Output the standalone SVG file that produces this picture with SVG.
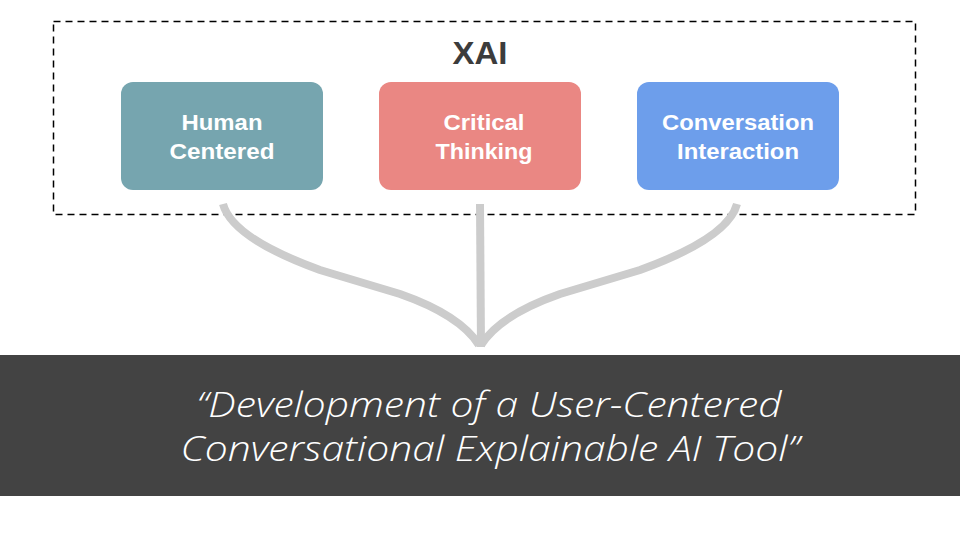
<svg xmlns="http://www.w3.org/2000/svg" width="960" height="540" viewBox="0 0 960 540">
<style>
.box{stroke:none}
.lbl{font-family:"Liberation Sans",Arial,sans-serif;font-weight:bold;font-size:22px;fill:#fff;text-anchor:middle}
.con{fill:none;stroke:#cccccc;stroke-width:8}
.quote{font-family:"Open Sans",Lato,sans-serif;font-style:italic;font-weight:300;font-size:35px;fill:#fff;text-anchor:middle}
</style>
<rect width="960" height="540" fill="#fff"/>
<g id="xai">
<rect x="53.5" y="21.5" width="862" height="193" fill="none" stroke="#000" stroke-width="1.5" stroke-dasharray="7,5"/>
<text x="480" y="64" font-family="Liberation Sans,Arial,sans-serif" font-weight="bold" font-size="32" fill="#3c3c3c" text-anchor="middle" textLength="55" lengthAdjust="spacingAndGlyphs">XAI</text>
</g>
<g id="connectors">
<path class="con" d="M737,204 Q728,238 640,270 L560,294 Q500,315 481,345"/>
<path class="con" d="M223,204 Q232,238 320,270 L400,294 Q460,315 479,345"/>
<path class="con" d="M480,204 L481,347"/>
</g>
<g id="human">
<rect class="box" x="121" y="82" width="202" height="108" rx="12" fill="#76a5af"/>
<text class="lbl" x="222" y="130" textLength="81" lengthAdjust="spacingAndGlyphs">Human</text>
<text class="lbl" x="222" y="159" textLength="105" lengthAdjust="spacingAndGlyphs">Centered</text>
</g>
<g id="critical">
<rect class="box" x="379" y="82" width="202" height="108" rx="12" fill="#ea8783"/>
<text class="lbl" x="484" y="130" textLength="81" lengthAdjust="spacingAndGlyphs">Critical</text>
<text class="lbl" x="484" y="159" textLength="97" lengthAdjust="spacingAndGlyphs">Thinking</text>
</g>
<g id="conversation">
<rect class="box" x="637" y="82" width="202" height="108" rx="12" fill="#6d9eeb"/>
<text class="lbl" x="738" y="130" textLength="152" lengthAdjust="spacingAndGlyphs">Conversation</text>
<text class="lbl" x="738" y="159" textLength="122" lengthAdjust="spacingAndGlyphs">Interaction</text>
</g>
<g id="title">
<rect x="0" y="355" width="960" height="141" fill="#434343"/>
<text class="quote" x="489" y="417" textLength="585" lengthAdjust="spacingAndGlyphs">“Development of a User-Centered</text>
<text class="quote" x="490" y="461" textLength="619" lengthAdjust="spacingAndGlyphs">Conversational Explainable AI Tool”</text>
</g>
</svg>
